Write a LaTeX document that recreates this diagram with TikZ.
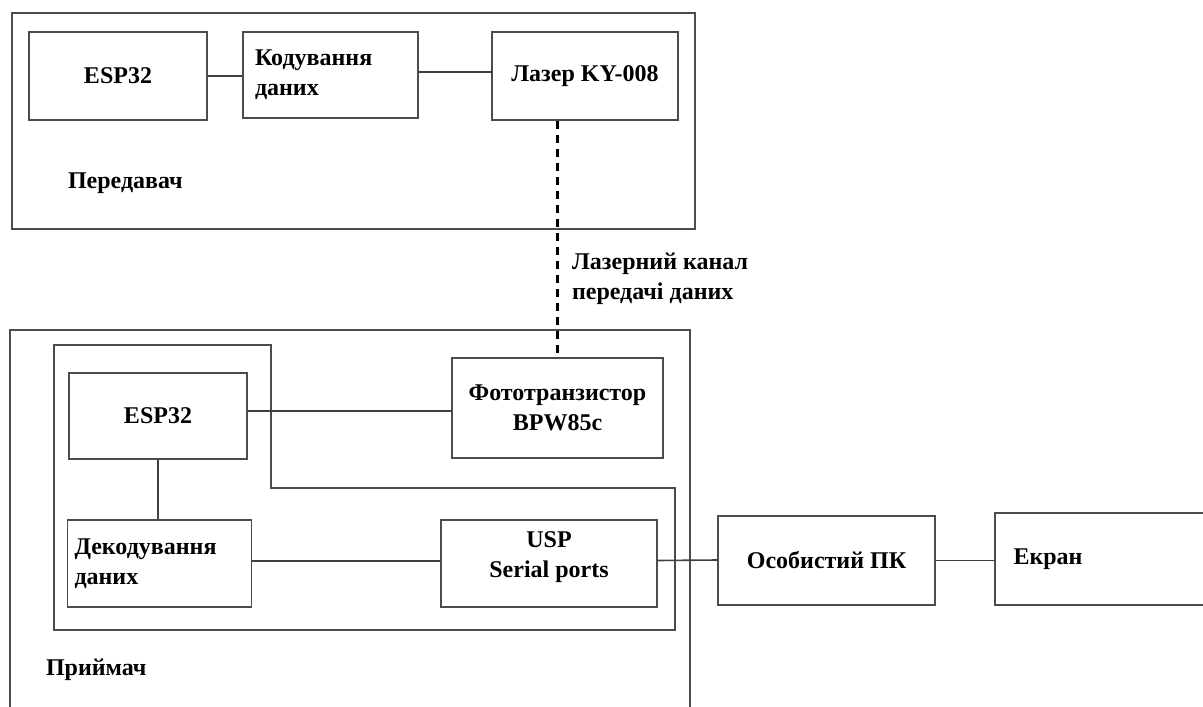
\documentclass[tikz,border=0pt]{standalone}
\usepackage{fontspec}
\setmainfont{Liberation Serif}
\usepackage{tikz}

\begin{document}
\begin{tikzpicture}[
		x=0.5pt, y=-0.5pt,
		every node/.style={font=\fontsize{12}{15}\selectfont\bfseries},
		blok/.style={rectangle, draw=black!70, line width=0.8pt, inner sep=0pt},
		frame/.style={draw=black!70, line width=0.8pt},
		wire/.style={draw=black!75, line width=0.8pt}
	]
  \useasboundingbox (0,0) rectangle (1203,706);
  \clip (0,0) rectangle (1203,706);
  % transmitter
  \draw [frame] (12,13) rectangle (695,229);
  \node (esp_t) [blok, minimum width=89pt, minimum height=44pt] at (118, 76) {ESP32};
  \node (cod_t) [blok, minimum width=87.5pt, minimum height=43pt, text width=75.5pt, align=left] at (330.5, 75) {Кодування\\даних};
  \node (laser_t) [blok, minimum width=93pt, minimum height=44pt] at (585, 76) {Лазер KY-008};
  \node (tx_lbl) [anchor=west] at (61, 183) {Передавач};
  % receiver
  \draw [frame] (10,330) rectangle (690,760);
  \draw [frame] (54,345) -- (271,345) -- (271,488) -- (675,488) -- (675,630) -- (54,630) -- cycle;
  \node (esp_r) [blok, minimum width=89pt, minimum height=43pt] at (158, 416) {ESP32};
  \node (photo_r) [blok, minimum width=105.5pt, minimum height=50pt, align=center] at (557.5, 408) {Фототранзистор\\BPW85c};
  \node (dec_r) [blok, minimum width=92pt, minimum height=43.5pt, text width=85pt, align=left] at (159.5, 563.5) {Декодування\\даних};
  \node (usp_r) [blok, minimum width=108pt, minimum height=43.5pt, align=center] at (549, 563.5) {USP\\Serial ports\\[-6pt]};
  \node (rx_lbl) [anchor=west] at (39, 670) {Приймач};
  % PC and screen
  \node (pc) [blok, minimum width=108.5pt, minimum height=44.5pt] at (826.5, 560.5) {Особистий ПК};
  \node (screen) [blok, minimum width=110pt, minimum height=46pt, text width=91.5pt, align=left] at (1105, 559) {Екран};
  % channel
  \node (chan) [anchor=west, align=left] at (565, 278.5) {Лазерний канал\\передачі даних};
  \draw [wire] (esp_t.east) -- (esp_t.east -| cod_t.west);
  \draw [wire] (cod_t.east) ++(0,-3) -- ++(74,0);
  \draw [wire, draw=black, line width=1.1pt, dash pattern=on 4pt off 3pt] (photo_r.north |- laser_t.south) -- (photo_r.north);
  \draw [wire] (esp_r.east) ++(0,-5) -- (photo_r.west |- 0,411);
  \draw [wire] (esp_r.south) -- (esp_r.south |- dec_r.north);
  \draw [wire] (dec_r.west |- 0,561) ++(184,0) -- (usp_r.west |- 0,561);
  \draw [wire] (usp_r.east) ++(0,-3) -- (pc.west |- 0,560);
  \draw [wire] (pc.east) -- (screen.west |- pc.east);
\end{tikzpicture}
\end{document}
